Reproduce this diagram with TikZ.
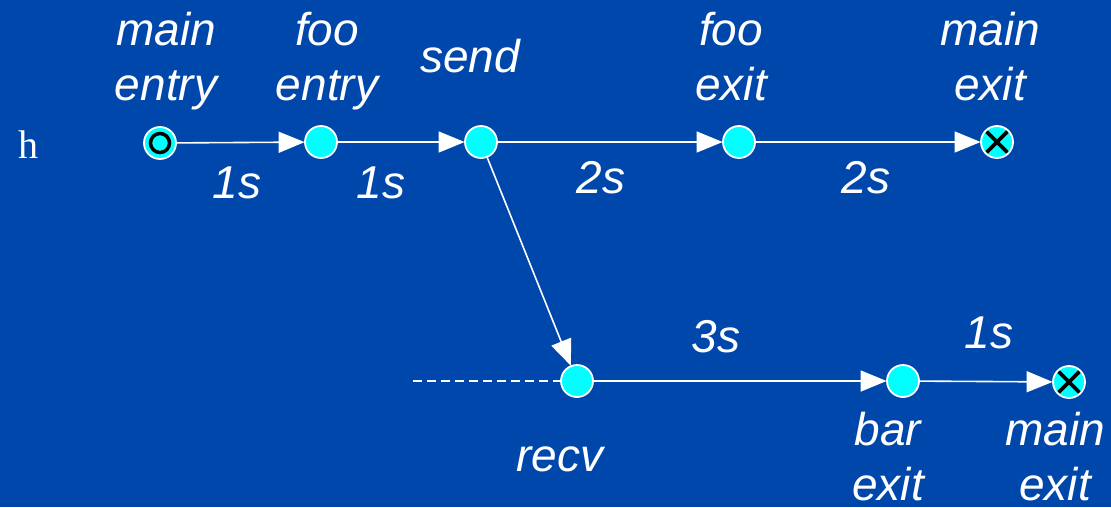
\documentclass[tikz,border=0pt]{standalone}
\usepackage{fontspec}
\setmainfont{Liberation Sans}
\newfontfamily\serifface{Liberation Serif}
\usetikzlibrary{arrows.meta}
\definecolor{bgblue}{RGB}{0,71,171}
\definecolor{evcyan}{RGB}{0,255,255}
\begin{document}
\begin{tikzpicture}[x=1pt,y=-1pt,
  event/.style={circle,fill=evcyan,draw=white,line width=1.8pt,minimum size=32pt,inner sep=0pt},
  startev/.style={event,path picture={\draw[black,line width=3.5pt] (path picture bounding box.center) circle (9.5pt);}},
  endev/.style={event,path picture={\draw[black,line width=3.8pt]
      ([shift={(-10.5pt,-10.5pt)}]path picture bounding box.center) -- ([shift={(10.5pt,10.5pt)}]path picture bounding box.center)
      ([shift={(-10.5pt,10.5pt)}]path picture bounding box.center) -- ([shift={(10.5pt,-10.5pt)}]path picture bounding box.center);}},
  flow/.style={draw=white,line width=1.6pt,-{Triangle[length=26pt,width=21pt]},shorten >=-0.5pt},
  lbl/.style={text=white,font=\fontsize{46}{55}\selectfont\itshape,inner sep=0pt,align=center,anchor=base},
]
\fill[bgblue] (0,0) rectangle (1111,507);
\useasboundingbox (0,0) rectangle (1111,507);

% host label
\node[text=white,font=\fontsize{40}{48}\selectfont\serifface,inner sep=0pt,anchor=base] (host) at (28,158) {h};

% events on the first process
\node[startev] (mainentry) at (160,143) {};
\node[event] (fooentry) at (321,142) {};
\node[event] (send) at (481,142) {};
\node[event] (fooexit) at (739,142) {};
\node[endev] (mainexit) at (997,142) {};

% events on the second process
\node[event] (recv) at (577,381) {};
\node[event] (barexit) at (903,381) {};
\node[endev] (mainexit2) at (1069,382) {};
\coordinate (inbound) at (413,381);

% connectors
\draw[flow] (mainentry) -- (fooentry);
\draw[flow] (fooentry) -- (send);
\draw[flow] (send) -- (fooexit);
\draw[flow] (fooexit) -- (mainexit);
\draw[flow] (send) -- (recv);
\draw[flow] (recv) -- (barexit);
\draw[flow] (barexit) -- (mainexit2);
\draw[white,line width=1.6pt,dash pattern=on 9pt off 5pt] (inbound) -- (recv);

% event names (anchored on the baseline of their last line)
\node[lbl] (tmainentry) at (166,100) {main\\entry};
\node[lbl] (tfooentry) at (327,100) {foo\\entry};
\node[lbl] (tsend) at (470,72) {send};
\node[lbl] (tfooexit) at (731,100) {foo\\exit};
\node[lbl] (tmainexit) at (990,100) {main\\exit};
\node[lbl] (trecv) at (560,471) {recv};
\node[lbl] (tbarexit) at (888,500) {bar\\exit};
\node[lbl] (tmainexit2) at (1055,500) {main\\exit};

% durations
\node[lbl] (d1) at (237,198) {1s};
\node[lbl] (d2) at (381,198) {1s};
\node[lbl] (d3) at (601,193) {2s};
\node[lbl] (d4) at (866,193) {2s};
\node[lbl] (d5) at (716,352) {3s};
\node[lbl] (d6) at (989,348) {1s};
\end{tikzpicture}
\end{document}
